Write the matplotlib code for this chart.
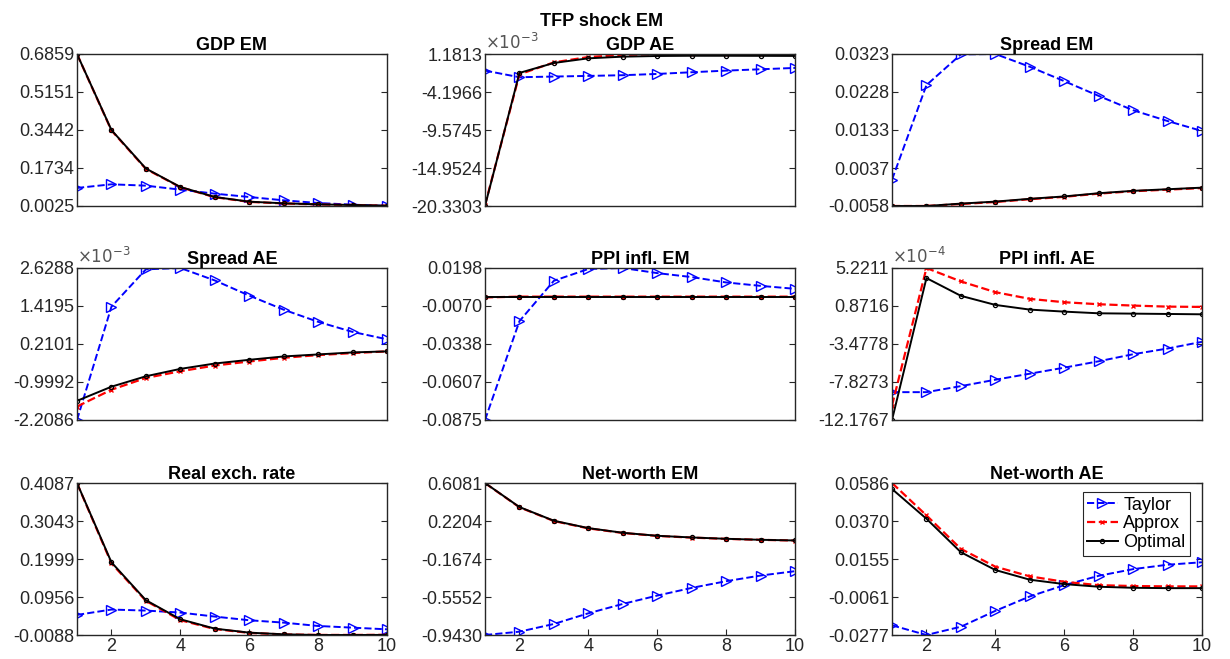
import matplotlib as mpl
mpl.use('Agg')
import matplotlib.pyplot as plt
import numpy as np
from matplotlib.ticker import FuncFormatter

plt.rcParams['font.family'] = ['Liberation Sans', 'DejaVu Sans']

periods = np.arange(1, 11)

# GDP EM
gdp_em_taylor = [0.0836, 0.100, 0.094, 0.076, 0.058, 0.043, 0.028, 0.016, 0.0085, 0.0025]
gdp_em_approx = [0.6855, 0.342, 0.169, 0.087, 0.042, 0.021, 0.014, 0.0095, 0.0068, 0.0038]
gdp_em_optimal = [0.6859, 0.344, 0.171, 0.088, 0.043, 0.022, 0.0145, 0.010, 0.007, 0.004]

# GDP AE (x1e-3)
gdp_ae_taylor = [-1.167, -2.106, -2.01, -1.92, -1.82, -1.64, -1.40, -1.17, -0.98, -0.79]
gdp_ae_approx = [-20.20, -1.70, 0.00, 0.75, 1.05, 1.15, 1.1813, 1.17, 1.14, 1.12]
gdp_ae_optimal = [-20.3303, -1.496, -0.087, 0.570, 0.806, 0.90, 0.93, 0.93, 0.92, 0.91]

# Spread EM
spread_em_taylor = [0.0008, 0.0245, 0.0322, 0.0323, 0.0291, 0.0255, 0.0218, 0.0182, 0.0155, 0.0130]
spread_em_approx = [-0.0058, -0.0058, -0.0053, -0.0048, -0.0041, -0.0035, -0.0027, -0.0021, -0.0017, -0.0013]
spread_em_optimal = [-0.0058, -0.0058, -0.0052, -0.0047, -0.0040, -0.0034, -0.0026, -0.0020, -0.0016, -0.0012]

# Spread AE (x1e-3)
spread_ae_taylor = [-2.2086, 1.398, 2.586, 2.6288, 2.233, 1.751, 1.302, 0.916, 0.595, 0.360]
spread_ae_approx = [-1.78, -1.245, -0.87, -0.657, -0.475, -0.347, -0.229, -0.143, -0.079, -0.025]
spread_ae_optimal = [-1.599, -1.149, -0.817, -0.582, -0.411, -0.293, -0.186, -0.122, -0.058, -0.025]

# PPI infl. EM
ppi_em_taylor = [-0.0875, -0.0177, 0.0108, 0.0191, 0.0198, 0.0162, 0.0134, 0.0096, 0.0072, 0.0051]
ppi_em_approx = [-0.0010, -0.0004, -0.0004, -0.0004, -0.0004, -0.0004, -0.0004, -0.0004, -0.0004, -0.0004]
ppi_em_optimal = [-0.0004, -0.0004, -0.0004, -0.0004, -0.0004, -0.0004, -0.0004, -0.0004, -0.0004, -0.0004]

# PPI infl. AE (x1e-4)
ppi_ae_taylor = [-8.989, -8.99, -8.298, -7.569, -6.877, -6.186, -5.456, -4.649, -3.996, -3.228]
ppi_ae_approx = [-10.525, 5.2211, 3.685, 2.456, 1.688, 1.304, 1.073, 0.92, 0.80, 0.766]
ppi_ae_optimal = [-12.1767, 4.069, 2.034, 0.996, 0.459, 0.228, 0.036, -0.002, -0.04, -0.079]

# Real exch. rate
rer_taylor = [0.0464, 0.0611, 0.0583, 0.0528, 0.0418, 0.0317, 0.0252, 0.016, 0.0114, 0.0068]
rer_approx = [0.4080, 0.188, 0.085, 0.032, 0.0075, -0.003, -0.0072, -0.0086, -0.0086, -0.0083]
rer_optimal = [0.4087, 0.1908, 0.0868, 0.0344, 0.0087, -0.0023, -0.0069, -0.0088, -0.0088, -0.0085]

# Net-worth EM
nw_em_taylor = [-0.94296, -0.909, -0.8305, -0.7214, -0.6260, -0.5407, -0.4623, -0.3941, -0.3362, -0.2919]
nw_em_approx = [0.6070, 0.360, 0.220, 0.145, 0.098, 0.068, 0.051, 0.038, 0.028, 0.021]
nw_em_optimal = [0.60814, 0.3627, 0.2229, 0.1479, 0.1002, 0.0695, 0.0524, 0.0388, 0.0286, 0.0218]

# Net-worth AE
nw_ae_taylor = [-0.0222, -0.0277, -0.0230, -0.0140, -0.0058, 0.0006, 0.0059, 0.0097, 0.0122, 0.0136]
nw_ae_approx = [0.0586, 0.0402, 0.0212, 0.0111, 0.0056, 0.0025, 0.0006, 0.0001, -0.0001, -0.0001]
nw_ae_optimal = [0.0552, 0.0383, 0.0193, 0.0092, 0.0037, 0.0012, -0.0003, -0.0009, -0.0011, -0.0011]

titles = ['GDP EM', 'GDP AE', 'Spread EM', 'Spread AE', 'PPI infl. EM', 'PPI infl. AE',
          'Real exch. rate', 'Net-worth EM', 'Net-worth AE']
series = [
    (gdp_em_taylor, gdp_em_approx, gdp_em_optimal),
    (gdp_ae_taylor, gdp_ae_approx, gdp_ae_optimal),
    (spread_em_taylor, spread_em_approx, spread_em_optimal),
    (spread_ae_taylor, spread_ae_approx, spread_ae_optimal),
    (ppi_em_taylor, ppi_em_approx, ppi_em_optimal),
    (ppi_ae_taylor, ppi_ae_approx, ppi_ae_optimal),
    (rer_taylor, rer_approx, rer_optimal),
    (nw_em_taylor, nw_em_approx, nw_em_optimal),
    (nw_ae_taylor, nw_ae_approx, nw_ae_optimal),
]
# exponent shown above the axis (values above are stored in these units)
exponents = [0, -3, 0, -3, 0, -4, 0, 0, 0]

dark = '#262626'
fig = plt.figure(figsize=(12.3, 6.59), dpi=100)
W, H = 1230, 659
lefts = [77, 485, 892]
tops = [54, 268, 483]
aw, ah = 310, 152

for i in range(9):
    r, c = divmod(i, 3)
    ax = fig.add_axes([lefts[c] / W, 1 - (tops[r] + ah) / H, aw / W, ah / H])
    taylor, approx, optimal = series[i]
    ax.plot(periods, taylor, '--', color='blue', lw=1.4, marker='>', ms=6.5,
            mfc='none', mew=1.0, label='Taylor')
    ax.plot(periods, approx, '--', color='red', lw=1.6, marker='x', ms=3,
            mew=1.0, label='Approx')
    ax.plot(periods, optimal, '-', color='black', lw=1.4, marker='o', ms=3,
            mfc='none', mew=0.9, label='Optimal')
    allv = np.concatenate([taylor, approx, optimal])
    lo, hi = allv.min(), allv.max()
    ax.set_xlim(1, 10)
    ax.set_ylim(lo, hi)
    ax.set_yticks(np.linspace(lo, hi, 5))
    ax.yaxis.set_major_formatter(FuncFormatter(lambda v, p: f'{v:.4f}'))
    ax.set_title(titles[i], fontsize=13, fontweight='bold', pad=3)
    ax.tick_params(direction='in', length=4, colors=dark, labelsize=13,
                   right=True, top=False, width=0.8, pad=2)
    for s in ax.spines.values():
        s.set_color(dark)
        s.set_linewidth(1.0)
    if r == 2:
        ax.set_xticks([2, 4, 6, 8, 10])
    else:
        ax.set_xticks([])
    if exponents[i] != 0:
        ax.text(0.0, 1.01, r'$\times10^{%d}$' % exponents[i], transform=ax.transAxes,
                fontsize=12, color='#555555', ha='left', va='bottom')
    if i == 8:
        leg = ax.legend(loc='upper right', fontsize=13, handlelength=1.7,
                        borderpad=0.25, labelspacing=0.1, handletextpad=0.3,
                        borderaxespad=0, fancybox=False, framealpha=1,
                        bbox_to_anchor=(0.961, 0.94))
        leg.get_frame().set_edgecolor(dark)
        leg.get_frame().set_linewidth(0.8)

fig.text(602 / W, 1 - 21 / H, 'TFP shock EM', ha='center', va='center',
         fontsize=13, fontweight='bold')

fig.savefig('out.png', dpi=100)
